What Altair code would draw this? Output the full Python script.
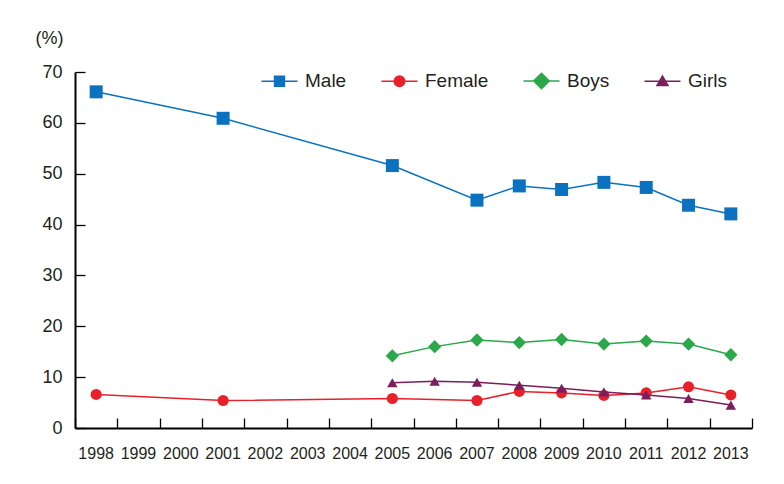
import altair as alt
import pandas as pd

years = [str(y) for y in range(1998, 2014)]
series = ["Male", "Female", "Boys", "Girls"]
colors = ["#0A72BF", "#E8202A", "#2BA84A", "#7A1F5C"]
shapes = ["square", "circle", "diamond", "triangle-up"]
sizes = [169, 123, 177, 110]

male_years = ["1998", "2001", "2005", "2007", "2008", "2009", "2010", "2011", "2012", "2013"]
male_values = [66.1, 60.9, 51.6, 44.8, 47.6, 46.9, 48.3, 47.3, 43.8, 42.1]
female_years = ["1998", "2001", "2005", "2007", "2008", "2009", "2010", "2011", "2012", "2013"]
female_values = [6.6, 5.4, 5.8, 5.4, 7.2, 6.9, 6.4, 6.9, 8.1, 6.5]
boys_years = ["2005", "2006", "2007", "2008", "2009", "2010", "2011", "2012", "2013"]
boys_values = [14.2, 16.0, 17.3, 16.8, 17.4, 16.5, 17.1, 16.5, 14.4]
girls_years = ["2005", "2006", "2007", "2008", "2009", "2010", "2011", "2012", "2013"]
girls_values = [8.9, 9.2, 9.0, 8.4, 7.8, 7.1, 6.5, 5.8, 4.5]

rows = []
for name, ys, vs in [("Male", male_years, male_values), ("Female", female_years, female_values),
                     ("Boys", boys_years, boys_values), ("Girls", girls_years, girls_values)]:
    for y, v in zip(ys, vs):
        rows.append({"year": y, "value": v, "series": name})
df = pd.DataFrame(rows)

TXT = "#231F20"
FONT = "Liberation Sans"

L = 3.27
legend_paths = [
    f"M-{L},0H{L}M-0.9,-0.9H0.9V0.9H-0.9Z",
    f"M-{L},0H{L}M0.95,0A0.95,0.95,0,1,1,-0.95,0A0.95,0.95,0,1,1,0.95,0Z",
    f"M-{L},0H{L}M-1.4,0L0,-1.4L1.4,0L0,1.4Z",
    f"M-{L},0H{L}M0,-0.95L1,0.75L-1,0.75Z",
]

legend = alt.Legend(
    title=None, orient="none", legendX=195, legendY=-1, direction="horizontal",
    symbolSize=121, symbolStrokeWidth=1.5, symbolOpacity=1, labelFont=FONT, labelFontSize=19,
    labelColor=TXT, labelOffset=16, columnPadding=31,
)

xscale = alt.Scale(type="band", domain=years, paddingInner=0, paddingOuter=0)
yscale = alt.Scale(domain=[0, 70], nice=False, zero=True)
yvals = [0, 10, 20, 30, 40, 50, 60, 70]

layers = []
for i, (name, col, shp, sz) in enumerate(zip(series, colors, shapes, sizes)):
    if i == 0:
        lx = alt.Axis(orient="bottom", title=None, ticks=False, tickSize=0, labelAngle=0,
                      labelFont=FONT, labelFontSize=16, labelColor=TXT, labelPadding=17,
                      domainColor="#000000", domainWidth=2, grid=False)
        ly = alt.Axis(orient="left", values=yvals, ticks=False, tickSize=0,
                      labelFont=FONT, labelFontSize=18, labelColor=TXT, labelPadding=13,
                      domainColor="#000000", domainWidth=2, grid=False,
                      title="(%)", titleAngle=0, titleX=-26, titleY=-34, titleAlign="center",
                      titleBaseline="middle", titleFont=FONT, titleFontSize=18,
                      titleFontWeight="normal", titleColor=TXT)
        px = alt.Axis(orient="top", offset=-356, title=None, labels=False, domain=False,
                      ticks=True, tickSize=10, tickWidth=1.3, tickColor="#000000",
                      tickBand="extent", grid=False)
        py = alt.Axis(orient="right", offset=-677, title=None, labels=False, domain=False,
                      values=yvals, ticks=True, tickSize=10, tickWidth=1.3,
                      tickColor="#000000", grid=False)
    else:
        lx = ly = px = py = None
    base = alt.Chart(df).transform_filter(alt.datum.series == name)
    layers.append(
        base.mark_line(color=col, strokeWidth=1.5).encode(
            x=alt.X("year:N", scale=xscale, bandPosition=0.5, axis=lx),
            y=alt.Y("value:Q", scale=yscale, axis=ly),
        )
    )
    layers.append(
        base.mark_point(filled=True, opacity=1, color=col, shape=shp, size=sz).encode(
            x=alt.X("year:N", scale=xscale, bandPosition=0.5, axis=px),
            y=alt.Y("value:Q", scale=yscale, axis=py),
        )
    )

# legend-only layer: no rows survive the filter, the legend is built from the scale domains
legend_layer = alt.Chart(df).transform_filter(alt.datum.value < 0).mark_point(
    filled=True, strokeWidth=1.5
).encode(
    x=alt.X("year:N", scale=xscale, bandPosition=0.5, axis=None),
    y=alt.Y("value:Q", scale=yscale, axis=None),
    fill=alt.Fill("series:N", scale=alt.Scale(domain=series, range=colors), legend=legend),
    stroke=alt.Stroke("series:N", scale=alt.Scale(domain=series, range=colors), legend=legend),
    shape=alt.Shape("series:N", scale=alt.Scale(domain=series, range=legend_paths), legend=legend),
)

chart = alt.layer(*layers, legend_layer).resolve_axis(
    x="independent", y="independent"
).properties(
    width=677, height=356,
    background="white",
    autosize=alt.AutoSizeParams(type="none"),
    padding={"left": 67, "top": 64, "right": 24, "bottom": 48},
).configure_view(stroke=None)

chart.save("out.html", embed_options={"renderer": "svg", "actions": False})
